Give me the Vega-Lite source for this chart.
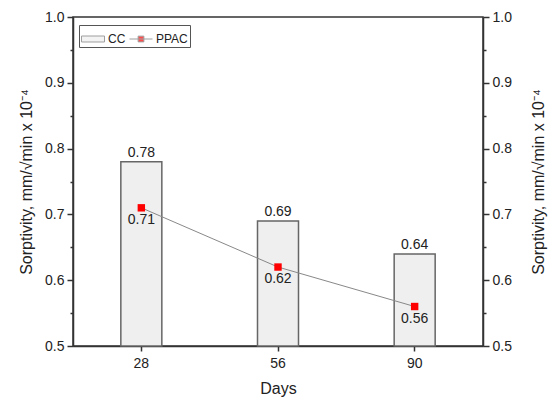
{
  "$schema": "https://vega.github.io/schema/vega-lite/v6.json",
  "width": 410,
  "height": 329,
  "autosize": {"type": "none"},
  "padding": {"left": 73, "top": 17, "right": 69, "bottom": 52},
  "background": "white",
  "config": {
    "font": "Liberation Sans",
    "view": {"stroke": "#333", "strokeWidth": 1.5},
    "axis": {
      "grid": false,
      "labelFont": "Liberation Sans",
      "titleFont": "Liberation Sans",
      "labelColor": "#222",
      "titleColor": "#222",
      "labelFontSize": 14,
      "titleFontSize": 16,
      "titleFontWeight": "normal",
      "domainColor": "#333",
      "tickColor": "#333",
      "domainWidth": 1.5,
      "tickWidth": 1.5
    },
    "text": {"font": "Liberation Sans", "fontSize": 14, "color": "#222"}
  },
  "data": {
    "values": [
      {"days": "28", "series": "CC", "value": 0.78},
      {"days": "56", "series": "CC", "value": 0.69},
      {"days": "90", "series": "CC", "value": 0.64},
      {"days": "28", "series": "PPAC", "value": 0.71},
      {"days": "56", "series": "PPAC", "value": 0.62},
      {"days": "90", "series": "PPAC", "value": 0.56}
    ]
  },
  "encoding": {
    "x": {
      "field": "days",
      "type": "ordinal",
      "scale": {"paddingInner": 0, "paddingOuter": 0},
      "axis": {"title": "Days", "labelAngle": 0, "tickSize": 5, "labelPadding": 5, "titlePadding": 10}
    }
  },
  "layer": [
    {
      "encoding": {
        "y": {
          "field": "value",
          "type": "quantitative",
          "scale": {"domain": [0.5, 1.0], "zero": false, "nice": false},
          "axis": {
            "title": "Sorptivity, mm/√min x 10⁻⁴",
            "values": [0.5, 0.55, 0.6, 0.65, 0.7, 0.75, 0.8, 0.85, 0.9, 0.95, 1.0],
            "format": ".1f",
            "labelExpr": "abs(datum.value*10 - round(datum.value*10)) < 0.001 ? datum.label : ''",
            "tickSize": {"condition": {"test": "abs(datum.value*10 - round(datum.value*10)) < 0.001", "value": 6}, "value": 3},
            "labelPadding": 3,
            "titlePadding": 10
          }
        }
      },
      "layer": [
        {
          "transform": [{"filter": "datum.series == 'CC'"}],
          "mark": {"type": "bar", "width": {"band": 0.3}, "stroke": "#666", "strokeWidth": 1.5},
          "encoding": {
            "y2": {"datum": 0.5},
            "fill": {
              "field": "series",
              "type": "nominal",
              "scale": {"domain": ["CC", "PPAC"], "range": ["#efefef", "#ff0000"]},
              "legend": {
                "orient": "none",
                "legendX": 6,
                "legendY": 8,
                "direction": "horizontal",
                "title": null,
                "strokeColor": "#555",
                "padding": 2,
                "labelFontSize": 12,
                "labelColor": "#222",
                "labelOffset": 3,
                "columnPadding": 1,
                "symbolSize": 529,
                "symbolStrokeWidth": 1,
                "symbolStrokeColor": "#777"
              }
            }
          }
        },
        {
          "transform": [{"filter": "datum.series == 'none'"}],
          "mark": {"type": "point", "filled": true},
          "encoding": {
            "fill": {"field": "series", "type": "nominal"},
            "shape": {
              "field": "series",
              "type": "nominal",
              "scale": {"domain": ["CC", "PPAC"], "range": ["M-1,-0.26H1V0.26H-1Z", "M-1,0H1M-0.25,-0.25H0.25V0.25H-0.25Z"]}
            }
          }
        },
        {
          "transform": [{"filter": "datum.series == 'CC'"}],
          "mark": {"type": "text", "baseline": "bottom", "dy": -2},
          "encoding": {"text": {"field": "value", "format": ".2f"}}
        },
        {
          "transform": [{"filter": "datum.series == 'PPAC'"}],
          "mark": {"type": "line", "color": "#888", "strokeWidth": 1},
          "encoding": {}
        },
        {
          "transform": [{"filter": "datum.series == 'PPAC'"}],
          "mark": {"type": "point", "shape": "square", "filled": true, "size": 55, "opacity": 1, "color": "#ff0000"},
          "encoding": {}
        },
        {
          "transform": [{"filter": "datum.series == 'PPAC'"}],
          "mark": {"type": "text", "baseline": "top", "dy": 5},
          "encoding": {"text": {"field": "value", "format": ".2f"}}
        }
      ]
    },
    {
      "mark": {"type": "rule", "opacity": 0},
      "encoding": {
        "y": {
          "field": "value",
          "type": "quantitative",
          "scale": {"domain": [0.5, 1.0], "zero": false, "nice": false},
          "axis": {
            "orient": "right",
            "title": "Sorptivity, mm/√min x 10⁻⁴",
            "titleAngle": 270,
            "titleBaseline": "top",
            "values": [0.5, 0.55, 0.6, 0.65, 0.7, 0.75, 0.8, 0.85, 0.9, 0.95, 1.0],
            "format": ".1f",
            "labelExpr": "abs(datum.value*10 - round(datum.value*10)) < 0.001 ? datum.label : ''",
            "tickSize": {"condition": {"test": "abs(datum.value*10 - round(datum.value*10)) < 0.001", "value": 6}, "value": 3},
            "labelPadding": 3,
            "titlePadding": 19
          }
        }
      }
    }
  ],
  "resolve": {"scale": {"y": "independent"}}
}
